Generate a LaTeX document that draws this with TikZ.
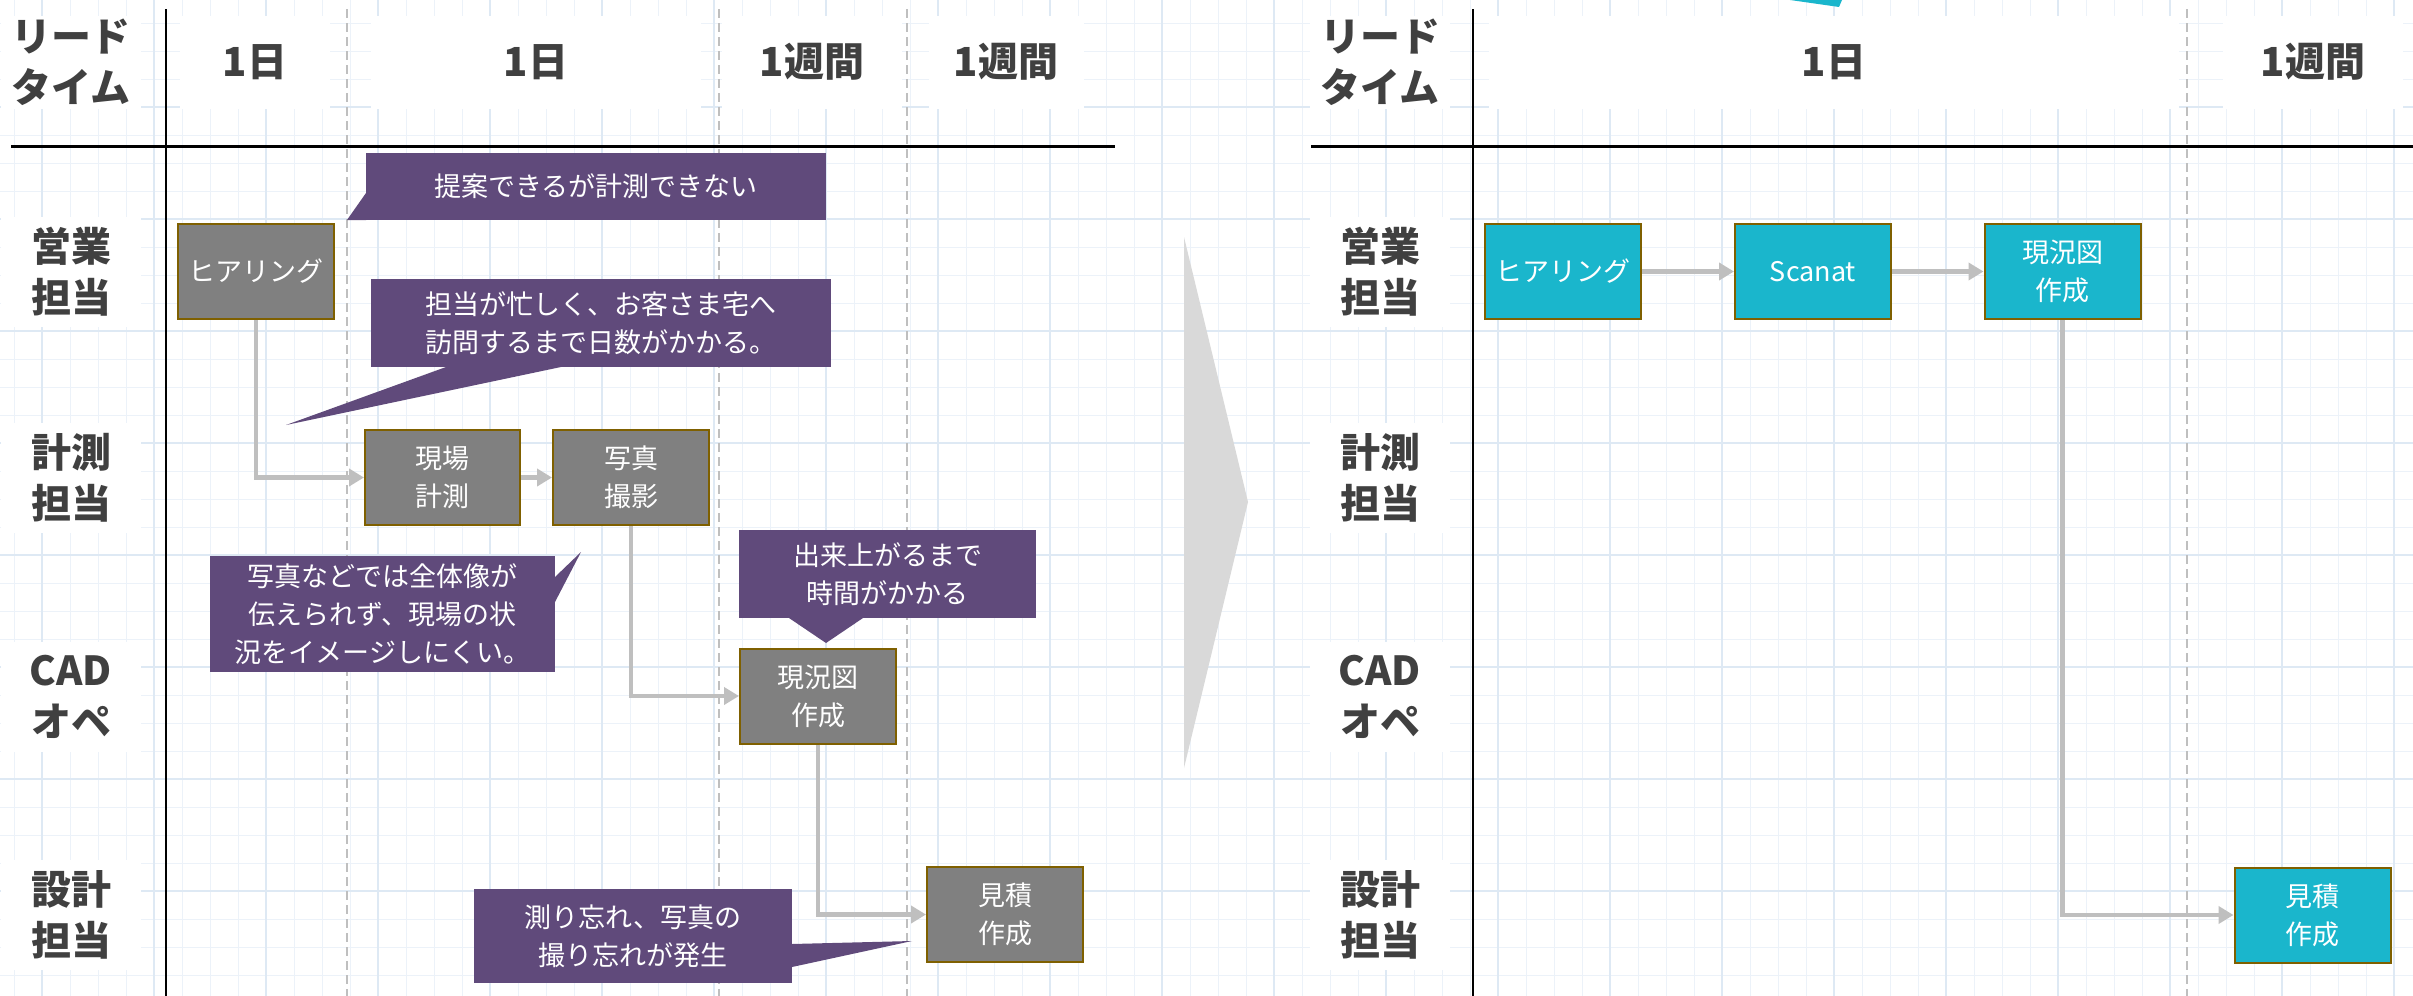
\documentclass[tikz,border=0pt]{standalone}
\usepackage{fontspec}
\newfontfamily\jpfont{Noto Sans CJK JP}
\usetikzlibrary{arrows.meta}

\definecolor{hdrgray}{RGB}{64,64,64}
\definecolor{notepurple}{RGB}{96,74,123}
\definecolor{boxgray}{RGB}{128,128,128}
\definecolor{boxedge}{RGB}{127,96,0}
\definecolor{scanteal}{RGB}{26,182,204}
\definecolor{flowgray}{RGB}{191,191,191}
\definecolor{bigarrow}{RGB}{217,217,217}
\definecolor{gridminor}{RGB}{236,242,249}
\definecolor{gridmajor}{RGB}{222,233,244}

\tikzset{
  hdr/.style={fill=white, text=hdrgray, font=\jpfont\bfseries\fontsize{40}{51}\selectfont,
    align=center, minimum height=93pt, inner sep=0pt},
  rowlbl/.style={hdr, minimum width=140pt, minimum height=110pt},
  taskbox/.style={draw=boxedge, line width=2pt, fill=boxgray, text=white,
    font=\jpfont\fontsize{27}{38}\selectfont, align=center,
    minimum width=156pt, minimum height=95pt, inner sep=0pt},
  scanbox/.style={taskbox, fill=scanteal},
  note/.style={fill=notepurple, text=white, font=\jpfont\fontsize{27}{38}\selectfont,
    align=center, inner sep=0pt},
  flow/.style={draw=flowgray, line width=4.5pt, -{Triangle[length=15pt,width=17pt]}},
  lane/.style={flowgray, line width=2.5pt, dash pattern=on 9pt off 5pt},
}

\begin{document}
\begin{tikzpicture}[x=1pt, y=-1pt]

\useasboundingbox (0,0) rectangle (2413,996);
\fill[white] (0,0) rectangle (2413,996);

% grid
\foreach \k in {0,...,86} \draw[gridminor, line width=1pt] ({14+28*\k},0) -- ({14+28*\k},996);
\foreach \k in {0,...,35} \draw[gridminor, line width=1pt] (0,{23+28*\k}) -- (2413,{23+28*\k});
\foreach \k in {0,...,21} \draw[gridmajor, line width=1.4pt] ({42+112*\k},0) -- ({42+112*\k},996);
\foreach \k in {0,...,7} \draw[gridmajor, line width=1.4pt] (0,{107+112*\k}) -- (2413,{107+112*\k});

% big arrow
\fill[bigarrow] (1184,237) -- (1248,502) -- (1184,768) -- cycle;

% teal tip at the top
\fill[scanteal] (1790,0) -- (1842,0) -- (1839,7) -- cycle;

% headers, left
\node[hdr, minimum width=140pt] (ltL) at (71,62) {リード\\タイム};
\node[hdr, minimum width=150pt] (dayA) at (255,62) {1日};
\node[hdr, minimum width=330pt] (dayB) at (536,62) {1日};
\node[hdr, minimum width=180pt] (weekA) at (812,62) {1週間};
\node[hdr, minimum width=155pt] (weekB) at (1006,62) {1週間};

% headers, right
\node[hdr, minimum width=140pt] (ltR) at (1380,62) {リード\\タイム};
\node[hdr, minimum width=690pt] (dayR) at (1834,62) {1日};
\node[hdr, minimum width=180pt] (weekR) at (2313,62) {1週間};

% rows
\node[rowlbl] (salesL) at (71,272) {営業\\担当};
\node[rowlbl] (surveyL) at (71,478) {計測\\担当};
\node[rowlbl] (cadL) at (71,697) {CAD\\オペ};
\node[rowlbl] (designL) at (71,915) {設計\\担当};
\node[rowlbl] (salesR) at (1380,272) {営業\\担当};
\node[rowlbl] (surveyR) at (1380,478) {計測\\担当};
\node[rowlbl] (cadR) at (1380,697) {CAD\\オペ};
\node[rowlbl] (designR) at (1380,915) {設計\\担当};

% lanes
\foreach \x in {347,719,907,2187} \draw[lane] (\x,9) -- (\x,996);

% axes
\draw[line width=2.5pt] (166,9) -- (166,996);
\draw[line width=3pt] (11,146) -- (1115,146);
\draw[line width=2.5pt] (1473,9) -- (1473,996);
\draw[line width=3pt] (1311,146) -- (2413,146);

% tasks, left
\node[taskbox] (hear) at (256,271.5) {ヒアリング};
\node[taskbox, minimum width=155pt] (genba) at (442.5,477.5) {現場\\計測};
\node[taskbox] (shashin) at (631,477.5) {写真\\撮影};
\node[taskbox] (genkyo) at (818,696) {現況図\\作成};
\node[taskbox] (mitsumori) at (1005,914.5) {見積\\作成};

\draw[flow] (hear.south) |- (genba.west);
\draw[flow] (genba) -- (shashin);
\draw[flow] (shashin.south) |- (genkyo.west);
\draw[flow] (genkyo.south) |- (mitsumori.west);

% tasks, right
\node[scanbox] (rhear) at (1562.5,271.5) {ヒアリング};
\node[scanbox] (rscan) at (1813,271.5) {Scanat};
\node[scanbox] (rgenkyo) at (2062.5,271.5) {現況図\\作成};
\node[scanbox] (rmitsu) at (2312.5,915) {見積\\作成};

\draw[flow] (rhear) -- (rscan);
\draw[flow] (rscan) -- (rgenkyo);
\draw[flow] (rgenkyo.south) |- (rmitsu.west);

% notes
\node[note, minimum width=460pt, minimum height=67pt] (n1) at (596,186.5) {提案できるが計測できない};
\fill[notepurple] (366,193) -- (347,220) -- (366,220) -- cycle;

\node[note, minimum width=460pt, minimum height=88pt] (n2) at (601,323) {担当が忙しく、お客さま宅へ\\訪問するまで日数がかかる。};
\fill[notepurple] (446,367) -- (286,425) -- (561,367) -- cycle;

\node[note, minimum width=345pt, minimum height=116pt] (n3) at (382.5,614) {写真などでは全体像が\\伝えられず、現場の状\\況をイメージしにくい。};
\fill[notepurple] (555,577) -- (581,552) -- (555,602) -- cycle;

\node[note, minimum width=297pt, minimum height=88pt] (n4) at (887.5,574) {出来上がるまで\\時間がかかる};
\fill[notepurple] (789,618) -- (826,643) -- (863,618) -- cycle;

\node[note, minimum width=318pt, minimum height=94pt] (n5) at (633,936) {測り忘れ、写真の\\撮り忘れが発生};
\fill[notepurple] (792,944) -- (912,941) -- (792,967) -- cycle;

\end{tikzpicture}
\end{document}
